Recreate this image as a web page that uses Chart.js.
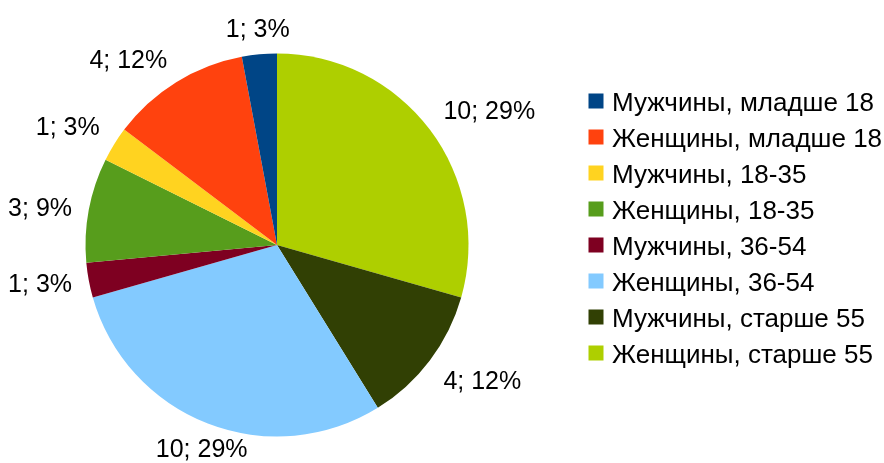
<!DOCTYPE html>
<html><head><meta charset="utf-8">
<script src="https://cdn.jsdelivr.net/npm/chart.js@4/dist/chart.umd.min.js"></script>
<style>html,body{margin:0;padding:0;background:#fff;}canvas{display:block;}</style>
</head><body>
<canvas id="c" width="884" height="463"></canvas>
<script>
const categories = ["Мужчины, младше 18","Женщины, младше 18","Мужчины, 18-35","Женщины, 18-35","Мужчины, 36-54","Женщины, 36-54","Мужчины, старше 55","Женщины, старше 55"];
const values = [1,4,1,3,1,10,4,10];
const colors = ["#004586","#ff420e","#ffd320","#579d1c","#7e0021","#83caff","#314004","#aecf00"];

const FONT = '25px "Liberation Sans", Arial, sans-serif';
const LEGEND_FONT = '26px "Liberation Sans", Arial, sans-serif';
const CAP = 18;
const total = values.reduce((a,b)=>a+b,0);

// slices run counter-clockwise from the top in the reference, so feed reversed copies
const chartLabels = categories.slice().reverse();
const chartValues = values.slice().reverse();
const chartColors = colors.slice().reverse();

const sliceLabels = {
  id:'sliceLabels',
  afterDatasetsDraw(chart){
    const ctx = chart.ctx;
    const meta = chart.getDatasetMeta(0);
    const ds = chart.data.datasets[0].data;
    ctx.save();
    ctx.font = FONT;
    ctx.fillStyle = '#000';
    meta.data.forEach((arc,i)=>{
      const p = arc.getProps(['x','y','startAngle','endAngle','outerRadius'], true);
      const mid = (p.startAngle+p.endAngle)/2;
      const dx = Math.cos(mid), dy = Math.sin(mid);
      const r = p.outerRadius + 17;
      const ax = p.x + dx*r, ay = p.y + dy*r;
      const v = ds[i];
      const txt = v + '; ' + Math.round(v/total*100) + '%';
      ctx.textAlign = Math.abs(dx) < 0.4 ? 'center' : (dx < 0 ? 'right' : 'left');
      ctx.textBaseline = 'alphabetic';
      let by;
      if (Math.abs(dy) < 0.4) by = ay + CAP/2;
      else if (dy < 0) by = ay;
      else by = ay + CAP;
      ctx.fillText(txt, ax, by);
    });
    ctx.restore();
  }
};

const sideLegend = {
  id:'sideLegend',
  afterDraw(chart){
    const ctx = chart.ctx;
    ctx.save();
    ctx.font = LEGEND_FONT;
    ctx.textAlign = 'left';
    ctx.textBaseline = 'alphabetic';
    categories.forEach((name,i)=>{
      const cy = 101 + i*36;
      ctx.fillStyle = colors[i];
      ctx.fillRect(588.5, cy-7.5, 15, 15);
      ctx.fillStyle = '#000';
      ctx.fillText(name, 612, cy + 9.5);
    });
    ctx.restore();
  }
};

new Chart(document.getElementById('c'), {
  type:'pie',
  data:{ labels: chartLabels, datasets:[{ data: chartValues, backgroundColor: chartColors, borderWidth:0 }] },
  options:{
    responsive:false,
    animation:false,
    layout:{ padding:{ left:85.5, top:53.5, right:415.5, bottom:26.5 } },
    plugins:{ legend:{display:false}, tooltip:{enabled:false}, title:{display:false} }
  },
  plugins:[sliceLabels, sideLegend]
});
</script>
</body></html>
